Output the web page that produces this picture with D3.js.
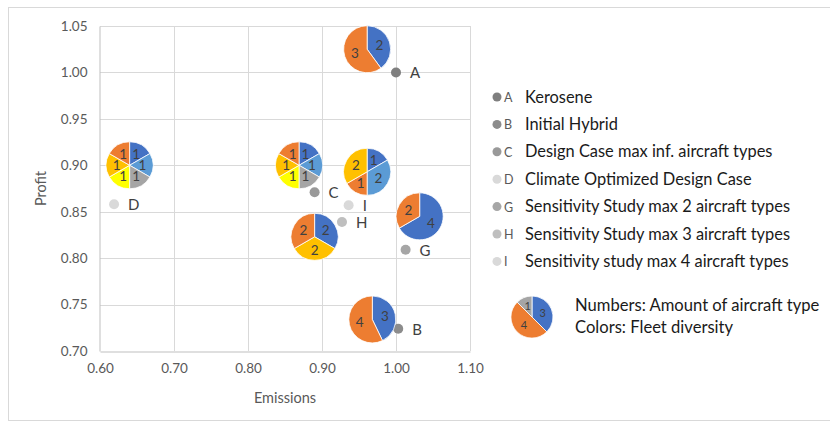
<!DOCTYPE html>
<html>
<head>
<meta charset="utf-8">
<script src="https://cdn.jsdelivr.net/npm/d3@7"></script>
<style>
  html, body { margin: 0; padding: 0; background: #fff; }
  svg { display: block; font-family: Lato, "Open Sans", sans-serif; }
</style>
</head>
<body>
<svg id="chart" width="830" height="423"></svg>
<script>
// Scenario points (emissions vs. profit)
const pointLabels = ["A", "B", "C", "D", "G", "H", "I"];
const pointNames = [
  "Kerosene",
  "Initial Hybrid",
  "Design Case max inf. aircraft types",
  "Climate Optimized Design Case",
  "Sensitivity Study max 2 aircraft types",
  "Sensitivity Study max 3 aircraft types",
  "Sensitivity study max 4 aircraft types"
];
const emissions = [1.000, 1.003, 0.890, 0.619, 1.013, 0.927, 0.936];
const profit    = [1.000, 0.724, 0.871, 0.858, 0.809, 0.839, 0.857];
const pointShade = ["#7f7f7f", "#8c8c8c", "#999999", "#d9d9d9", "#a6a6a6", "#bfbfbf", "#d9d9d9"];

// Fleet composition pies, anchored at emissions/profit coordinates
const pieEmissions = [0.961, 0.968, 0.869, 0.640, 1.032, 0.890, 0.961];
const pieProfit    = [1.025, 0.734, 0.900, 0.900, 0.845, 0.823, 0.893];
const pieTypes  = [[0, 5], [0, 5], [0, 1, 2, 3, 4, 5], [0, 1, 2, 3, 4, 5], [0, 5], [0, 4, 5], [0, 1, 5, 4]];
const pieCounts = [[2, 3], [3, 4], [1, 1, 1, 1, 1, 1], [1, 1, 1, 1, 1, 1], [4, 2], [2, 2, 2], [1, 2, 1, 2]];

// Key pie
const keyTypes = [0, 5, 2];
const keyCounts = [3, 4, 1];
const keyLines = ["Numbers: Amount of aircraft type", "Colors: Fleet diversity"];

// Axis ticks
const xTicks = [0.60, 0.70, 0.80, 0.90, 1.00, 1.10];
const yTicks = [0.70, 0.75, 0.80, 0.85, 0.90, 0.95, 1.00, 1.05];

const typeColors = ["#4472c4", "#5b9bd5", "#a5a5a5", "#ffff00", "#ffc000", "#ed7d31"];

const svg = d3.select("#chart");

// outer chart frame
svg.append("rect")
  .attr("x", 8.5).attr("y", 7.5).attr("width", 830).attr("height", 413)
  .attr("fill", "none").attr("stroke", "#d9d9d9");

const x = d3.scaleLinear().domain([0.60, 1.10]).range([100, 470]);
const y = d3.scaleLinear().domain([0.70, 1.05]).range([351, 26]);
const color = d3.scaleOrdinal().domain(d3.range(typeColors.length)).range(typeColors);

// gridlines
const grid = svg.append("g");
grid.selectAll("line.v").data(xTicks.slice(1)).join("line")
  .attr("x1", d => Math.round(x(d)) + 0.5).attr("x2", d => Math.round(x(d)) + 0.5)
  .attr("y1", y(1.05)).attr("y2", y(0.70))
  .attr("stroke", "#d9d9d9");
grid.selectAll("line.h").data(yTicks.slice(1)).join("line")
  .attr("y1", d => Math.round(y(d)) + 0.5).attr("y2", d => Math.round(y(d)) + 0.5)
  .attr("x1", x(0.60)).attr("x2", x(1.10))
  .attr("stroke", "#d9d9d9");

// axes
const xAxis = svg.append("g").attr("transform", `translate(0,${Math.round(y(0.70)) + 0.5})`)
  .call(d3.axisBottom(x).tickValues(xTicks).tickFormat(d3.format(".2f")).tickSize(0).tickPadding(12));
const yAxis = svg.append("g").attr("transform", `translate(${Math.round(x(0.60)) - 0.5},0)`)
  .call(d3.axisLeft(y).tickValues(yTicks).tickFormat(d3.format(".2f")).tickSize(0).tickPadding(12));
[xAxis, yAxis].forEach(a => {
  a.select(".domain").attr("stroke", "#bfbfbf");
  a.selectAll("text").attr("fill", "#595959").style("font-size", "13.5px").style("font-family", "Lato, sans-serif");
});

svg.append("text").attr("x", x(0.85)).attr("y", 403)
  .attr("text-anchor", "middle").attr("fill", "#595959").style("font-size", "14.5px")
  .text("Emissions");
svg.append("text").attr("transform", `translate(46,${y(0.875)}) rotate(-90)`)
  .attr("text-anchor", "middle").attr("fill", "#595959").style("font-size", "14.5px")
  .text("Profit");

// scenario points
const pts = svg.append("g");
pts.selectAll("circle").data(pointLabels).join("circle")
  .attr("cx", (d, i) => x(emissions[i])).attr("cy", (d, i) => y(profit[i]))
  .attr("r", 5).attr("fill", (d, i) => pointShade[i]);
pts.selectAll("text").data(pointLabels).join("text")
  .attr("x", (d, i) => x(emissions[i]) + 14).attr("y", (d, i) => y(profit[i]) + 6)
  .attr("fill", "#404040").style("font-size", "15px")
  .text(d => d);

// pies
const pieGen = d3.pie().sort(null).value(d => d.count);
const R = 23.5;
const arc = d3.arc().innerRadius(0).outerRadius(R);
const labelArc = d3.arc().innerRadius(R * 0.55).outerRadius(R * 0.55);

function drawPie(g, types, counts, arcFn, lblFn, fontSize) {
  const slices = pieGen(types.map((t, k) => ({ type: t, count: counts[k] })));
  g.selectAll("path").data(slices).join("path")
    .attr("d", arcFn).attr("fill", d => color(d.data.type))
    .attr("stroke", "#fff").attr("stroke-width", 0.8);
  g.selectAll("text").data(slices).join("text")
    .attr("transform", d => `translate(${lblFn.centroid(d)})`)
    .attr("text-anchor", "middle").attr("dy", "0.36em")
    .attr("fill", "#404040").style("font-size", fontSize)
    .text(d => d.data.count);
}

pieTypes.forEach((types, i) => {
  const g = svg.append("g").attr("transform", `translate(${x(pieEmissions[i])},${y(pieProfit[i])})`);
  drawPie(g, types, pieCounts[i], arc, labelArc, "13.5px");
});

// legend
const legend = svg.append("g");
const rowY = i => 97 + i * 27.4;
legend.selectAll("circle").data(pointLabels).join("circle")
  .attr("cx", 497).attr("cy", (d, i) => rowY(i)).attr("r", 4.5)
  .attr("fill", (d, i) => pointShade[i]);
legend.selectAll("text.l").data(pointLabels).join("text").attr("class", "l")
  .attr("x", 504).attr("y", (d, i) => rowY(i) + 5)
  .attr("fill", "#595959").style("font-size", "12.5px").text(d => d);
legend.selectAll("text.n").data(pointNames).join("text").attr("class", "n")
  .attr("x", 525).attr("y", (d, i) => rowY(i) + 5.5)
  .attr("fill", "#1a1a1a").style("font-size", "16.4px").text(d => d);

// key explaining pie encoding
const keyR = 21;
const keyG = svg.append("g").attr("transform", "translate(532,317)");
drawPie(keyG, keyTypes, keyCounts,
  d3.arc().innerRadius(0).outerRadius(keyR),
  d3.arc().innerRadius(keyR * 0.55).outerRadius(keyR * 0.55), "11px");
svg.selectAll("text.k").data(keyLines).join("text").attr("class", "k")
  .attr("x", 575).attr("y", (d, i) => 311 + i * 22)
  .attr("fill", "#1a1a1a").style("font-size", "16.6px").text(d => d);
</script>
</body>
</html>
